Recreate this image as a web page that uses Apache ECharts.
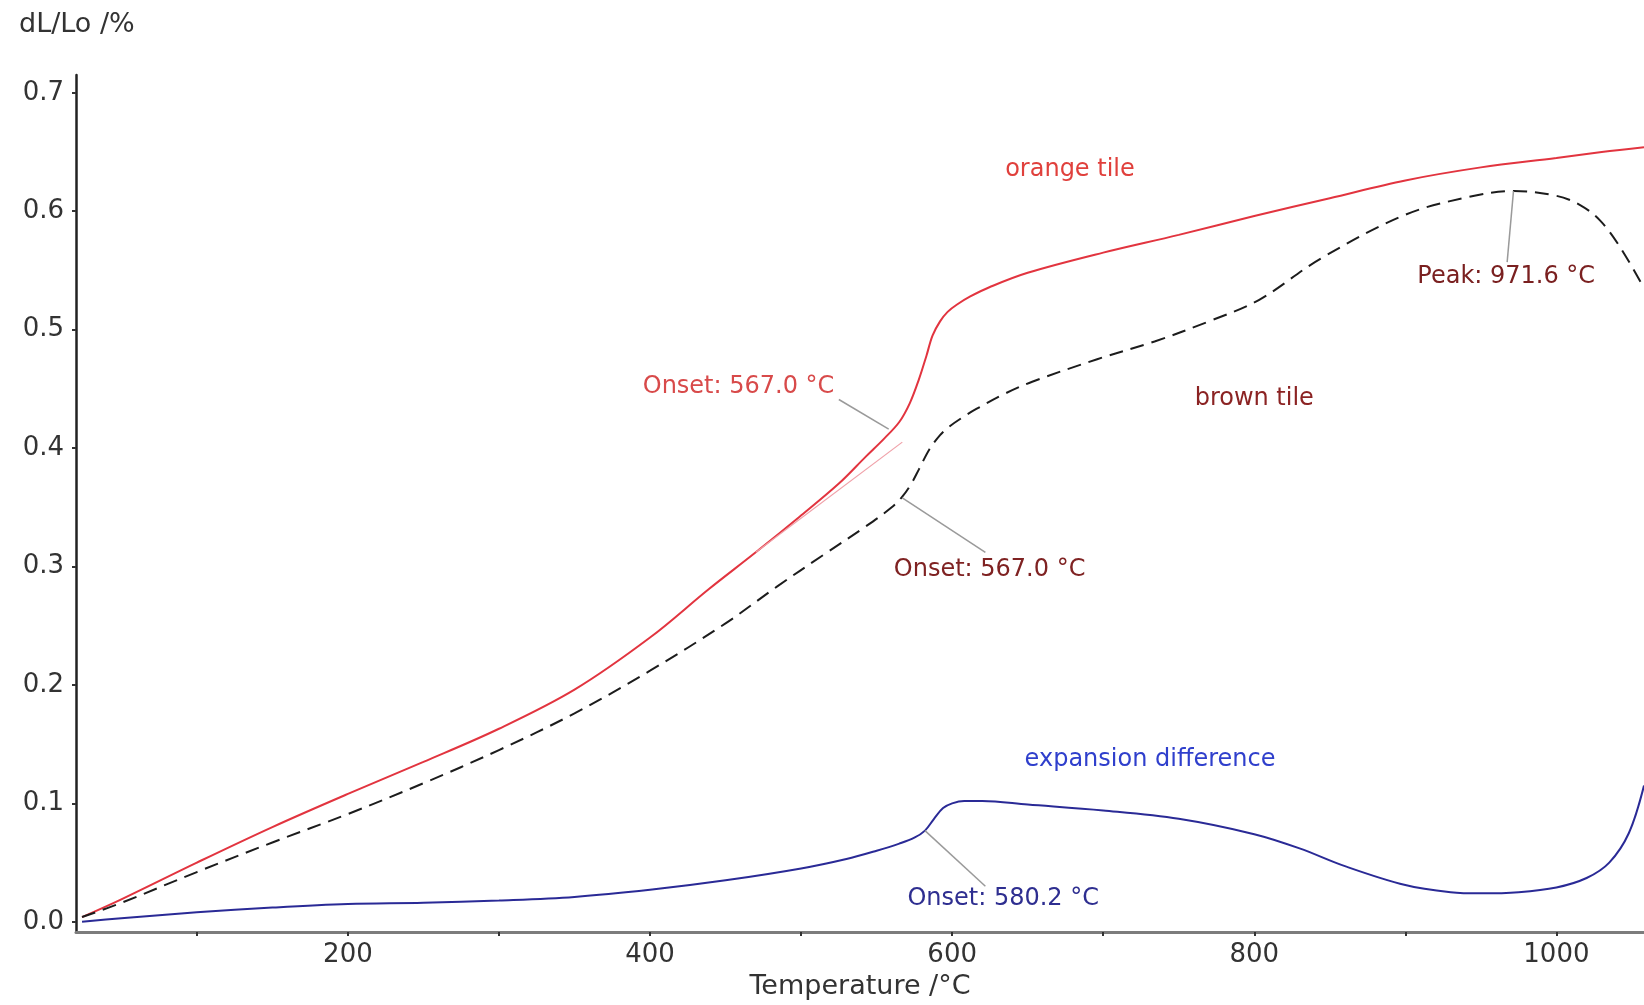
<!DOCTYPE html>
<html>
<head>
<meta charset="utf-8">
<script src="https://cdn.jsdelivr.net/npm/echarts@6/dist/echarts.min.js"></script>
<style>
  html, body { margin: 0; padding: 0; background: #fff; }
  #main { width: 1644px; height: 1005px; }
</style>
</head>
<body>
<div id="main"></div>
<script>
// dilatometer curves, dL/Lo in % against temperature in degC
var orangeTemp = [24, 50, 100, 150, 200, 250, 300, 350, 400, 439, 470, 499, 525, 543, 555, 565, 572, 578, 583, 587, 592, 597, 603, 612, 625, 650, 700, 750, 800, 850, 900, 950, 1000, 1030, 1058];
var orangeVal = [0.004, 0.019, 0.050, 0.080, 0.108, 0.135, 0.163, 0.196, 0.240, 0.281, 0.312, 0.342, 0.370, 0.393, 0.408, 0.422, 0.438, 0.458, 0.478, 0.495, 0.507, 0.515, 0.521, 0.528, 0.536, 0.548, 0.565, 0.580, 0.596, 0.611, 0.626, 0.637, 0.645, 0.650, 0.654];

var brownTemp = [24, 50, 100, 150, 200, 250, 300, 350, 400, 450, 484, 515, 543, 560, 567, 573, 578, 585, 592, 598, 607, 616, 635, 653, 696, 734, 770, 803, 844, 900, 942, 972, 1000, 1016, 1029, 1042, 1058];
var brownVal = [0.004, 0.016, 0.042, 0.067, 0.091, 0.117, 0.145, 0.176, 0.212, 0.252, 0.283, 0.310, 0.334, 0.350, 0.359, 0.370, 0.382, 0.399, 0.411, 0.418, 0.426, 0.433, 0.446, 0.456, 0.475, 0.490, 0.507, 0.525, 0.560, 0.597, 0.612, 0.617, 0.613, 0.605, 0.592, 0.570, 0.535];

var diffTemp = [24, 50, 100, 150, 200, 250, 300, 350, 400, 450, 500, 530, 550, 565, 575, 582, 588, 594, 600, 608, 620, 650, 700, 750, 800, 830, 860, 900, 930, 950, 975, 1000, 1020, 1035, 1048, 1058];
var diffVal = [0.000, 0.003, 0.008, 0.012, 0.015, 0.016, 0.018, 0.021, 0.027, 0.035, 0.045, 0.053, 0.060, 0.066, 0.071, 0.077, 0.087, 0.096, 0.100, 0.102, 0.102, 0.099, 0.094, 0.087, 0.074, 0.062, 0.047, 0.031, 0.025, 0.024, 0.025, 0.029, 0.037, 0.050, 0.075, 0.115];

var xTicks = [100, 200, 300, 400, 500, 600, 700, 800, 900, 1000];
var xLabels = [200, 400, 600, 800, 1000];
var yTicks = [0, 0.1, 0.2, 0.3, 0.4, 0.5, 0.6, 0.7];

function pairs(t, v) {
    return t.map(function(x, i) { return [x, v[i]]; });
}

var FONT = 'DejaVu Sans';

function note(x, y, text, color) {
    return { coord: [x, y], value: text, label: { color: color } };
}
function leader(x1, y1, x2, y2) {
    return [{ coord: [x1, y1] }, { coord: [x2, y2] }];
}

var notePoint = {
    symbol: 'circle',
    symbolSize: 0,
    silent: true,
    label: { show: true, position: 'inside', fontFamily: FONT, fontSize: 24, formatter: '{c}' }
};
var leaderLine = {
    symbol: 'none',
    silent: true,
    label: { show: false },
    lineStyle: { color: '#9a9a9a', width: 1.5, type: 'solid' }
};

function withData(base, data) {
    var o = JSON.parse(JSON.stringify(base));
    o.data = data;
    return o;
}

var chart = echarts.init(document.getElementById('main'));
chart.setOption({
    backgroundColor: '#fff',
    animation: false,
    title: {
        text: 'dL/Lo /%',
        left: 14,
        top: 6,
        textStyle: { fontFamily: FONT, fontSize: 27, fontWeight: 'normal', color: '#333' }
    },
    grid: { left: 76, right: 0, top: 75, bottom: 72 },
    xAxis: {
        type: 'value',
        min: 20,
        max: 1058,
        name: 'Temperature /°C',
        nameLocation: 'middle',
        nameGap: 40,
        nameTextStyle: { fontFamily: FONT, fontSize: 27, color: '#333' },
        axisLine: { onZero: false, lineStyle: { color: '#7c7c7c', width: 3 } },
        axisTick: { customValues: xTicks, length: 4, lineStyle: { color: '#333', width: 2 } },
        axisLabel: {
            customValues: xLabels,
            formatter: function(v) { return String(v); },
            fontFamily: FONT, fontSize: 26, color: '#333', margin: 10
        },
        splitLine: { show: false }
    },
    yAxis: {
        type: 'value',
        min: -0.0087,
        max: 0.715,
        axisLine: { show: true, onZero: false, lineStyle: { color: '#222', width: 2.5 } },
        axisTick: { show: true, customValues: yTicks, length: 4, lineStyle: { color: '#333', width: 2 } },
        axisLabel: {
            customValues: yTicks,
            formatter: function(v) { return v.toFixed(1); },
            fontFamily: FONT, fontSize: 26, color: '#333', margin: 12
        },
        splitLine: { show: false }
    },
    series: [{
        name: 'orange tile',
        type: 'line',
        data: pairs(orangeTemp, orangeVal),
        showSymbol: false,
        smooth: 0.35,
        lineStyle: { color: '#e2343f', width: 2 },
        markPoint: withData(notePoint, [
            note(678, 0.635, 'orange tile', '#e0403c'),
            note(458.6, 0.452, 'Onset: 567.0 °C', '#d84a4a')
        ]),
        markLine: withData(leaderLine, [
            leader(525, 0.441, 558, 0.416),
            [{ coord: [470, 0.312], lineStyle: { color: '#f0a0a8', width: 1.2 } }, { coord: [567, 0.405] }]
        ])
    }, {
        name: 'brown tile',
        type: 'line',
        data: pairs(brownTemp, brownVal),
        showSymbol: false,
        smooth: 0.35,
        lineStyle: { color: '#1c1c1c', width: 2, type: [14, 8] },
        markPoint: withData(notePoint, [
            note(800, 0.4416, 'brown tile', '#8b2323'),
            note(624.8, 0.297, 'Onset: 567.0 °C', '#7f2222'),
            note(966.8, 0.545, 'Peak: 971.6 °C', '#7a2020')
        ]),
        markLine: withData(leaderLine, [
            leader(622, 0.312, 567, 0.358),
            leader(967.4, 0.557, 971.6, 0.617)
        ])
    }, {
        name: 'expansion difference',
        type: 'line',
        data: pairs(diffTemp, diffVal),
        showSymbol: false,
        smooth: 0.35,
        lineStyle: { color: '#2a2a96', width: 2 },
        markPoint: withData(notePoint, [
            note(731, 0.137, 'expansion difference', '#2f3fcc'),
            note(633.8, 0.0195, 'Onset: 580.2 °C', '#2e2e90')
        ]),
        markLine: withData(leaderLine, [
            leader(622, 0.030, 582, 0.077)
        ])
    }]
});
</script>
</body>
</html>
